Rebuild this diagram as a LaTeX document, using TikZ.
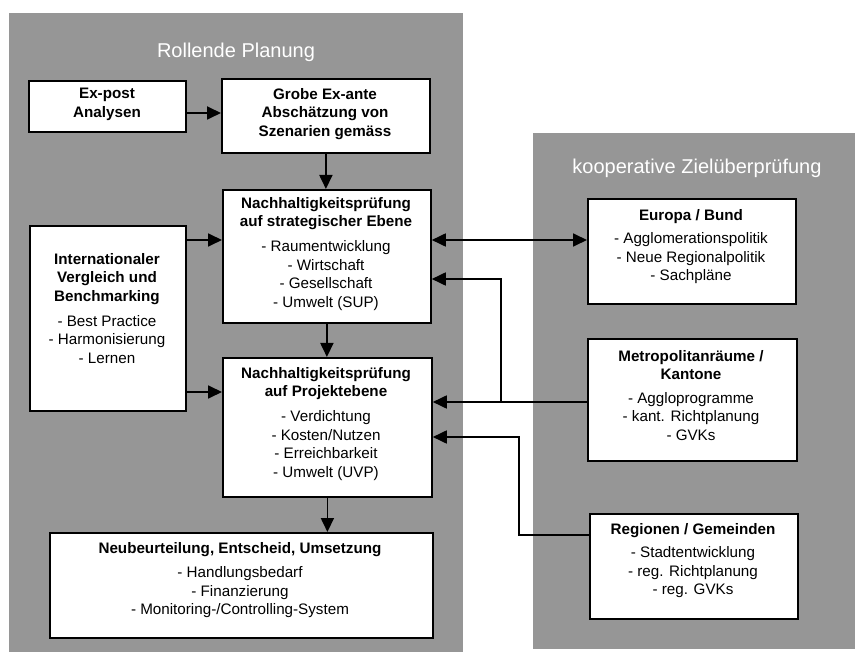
\documentclass[tikz,border=0pt]{standalone}
\usepackage{fontspec}
\setmainfont{Liberation Sans}
\usetikzlibrary{arrows.meta,calc}
\definecolor{panelgray}{RGB}{150,150,150}
\begin{document}
\begin{tikzpicture}[x=1pt,y=-1pt,
  panel/.style={fill=panelgray,draw=none},
  box/.style={draw=black,fill=white,line width=1.8pt,inner sep=0pt,anchor=north west},
  txt/.style={align=center,inner sep=0pt,anchor=north,font=\fontsize{15.2}{18.5}\selectfont},
  ttl/.style={text=white,inner sep=0pt,font=\fontsize{20}{24}\selectfont},
  link/.style={line width=1.8pt},
  arr/.style={link,-{Triangle[length=14pt,width=13pt]}},
  darr/.style={link,{Triangle[length=14pt,width=13pt]}-{Triangle[length=14pt,width=13pt]}}]
% canvas
\useasboundingbox (0,0) rectangle (855,652);
\fill[white] (0,0) rectangle (855,652);

% background panels
\fill[panel] (9,13) rectangle (463,652);
\fill[panel] (533,133) rectangle (855,649);
\node[ttl] (tleft) at (236,52) {Rollende Planung};
\node[ttl] (tright) at (697,168) {kooperative Zielüberprüfung};

% boxes of the planning cycle
\node[box,minimum width=157pt,minimum height=51pt] (expost) at (28,80) {};
\node[txt] (expost-t) at (107,88) {\textbf{Ex-post}\\\textbf{Analysen}};

\node[box,minimum width=208pt,minimum height=74pt] (grobe) at (221,78) {};
\node[txt] (grobe-t) at (325,88) {\textbf{Grobe Ex-ante}\\\textbf{Abschätzung von}\\\textbf{Szenarien gemäss}};

\node[box,minimum width=208pt,minimum height=133pt] (strat) at (222,189) {};
\node[txt] (strat-t) at (326,197) {\textbf{Nachhaltigkeitsprüfung}\\\textbf{auf strategischer Ebene}\\[6.5pt]
  - Raumentwicklung\\ - Wirtschaft\\ - Gesellschaft\\ - Umwelt (SUP)};

\node[box,minimum width=156pt,minimum height=185pt] (intl) at (29,225) {};
\node[txt] (intl-t) at (107,253) {\textbf{Internationaler}\\\textbf{Vergleich und}\\\textbf{Benchmarking}\\[6.5pt]
  - Best Practice\\ - Harmonisierung\\ - Lernen};

\node[box,minimum width=209pt,minimum height=139pt] (proj) at (222,357) {};
\node[txt] (proj-t) at (326,367) {\textbf{Nachhaltigkeitsprüfung}\\\textbf{auf Projektebene}\\[6.5pt]
  - Verdichtung\\ - Kosten/Nutzen\\ - Erreichbarkeit\\ - Umwelt (UVP)};

\node[box,minimum width=383pt,minimum height=105pt] (neu) at (49,532) {};
\node[txt] (neu-t) at (240,542) {\textbf{Neubeurteilung, Entscheid, Umsetzung}\\[6pt]
  - Handlungsbedarf\\ - Finanzierung\\ - Monitoring-/Controlling-System};

% boxes of the cooperative review
\node[box,minimum width=208pt,minimum height=105pt] (eu) at (587,198) {};
\node[txt] (eu-t) at (691,209) {\textbf{Europa / Bund}\\[5pt]
  - Agglomerationspolitik\\ - Neue Regionalpolitik\\ - Sachpläne};

\node[box,minimum width=209pt,minimum height=122pt] (met) at (587,338) {};
\node[txt] (met-t) at (691,350) {\textbf{Metropolitanräume /}\\\textbf{Kantone}\\[5pt]
  - Aggloprogramme\\ - kant. Richtplanung\\ - GVKs};

\node[box,minimum width=208pt,minimum height=105pt] (reg) at (589,513) {};
\node[txt] (reg-t) at (693,523) {\textbf{Regionen / Gemeinden}\\[5pt]
  - Stadtentwicklung\\ - reg. Richtplanung\\ - reg. GVKs};

% connector levels and bends
\coordinate (yTop) at (0,113);
\coordinate (yStrat) at (0,240);
\coordinate (yMetB) at (0,279);
\coordinate (yProj) at (0,392);
\coordinate (yMet) at (0,402);
\coordinate (yReg) at (0,437);
\coordinate (bendMet) at (501,402);
\coordinate (bendReg) at (519,535);

% flow inside the planning cycle
\draw[arr] (expost.east |- yTop) -- (grobe.west |- yTop);
\draw[arr] (grobe.south) -- (grobe.south |- strat.north);
\draw[arr] (intl.east |- yStrat) -- (strat.west |- yStrat);
\draw[arr] (strat.south) -- (strat.south |- proj.north);
\draw[arr] (intl.east |- yProj) -- (proj.west |- yProj);
\draw[arr] (proj.south) -- (proj.south |- neu.north);

% links to the cooperative review
\draw[darr] (strat.east |- yStrat) -- (eu.west |- yStrat);
\draw[arr] (met.west |- yMet) -- (proj.east |- yMet);
\draw[arr] (bendMet) |- (strat.east |- yMetB);
\draw[arr] (reg.west |- bendReg) -- (bendReg) |- (proj.east |- yReg);
\end{tikzpicture}
\end{document}
